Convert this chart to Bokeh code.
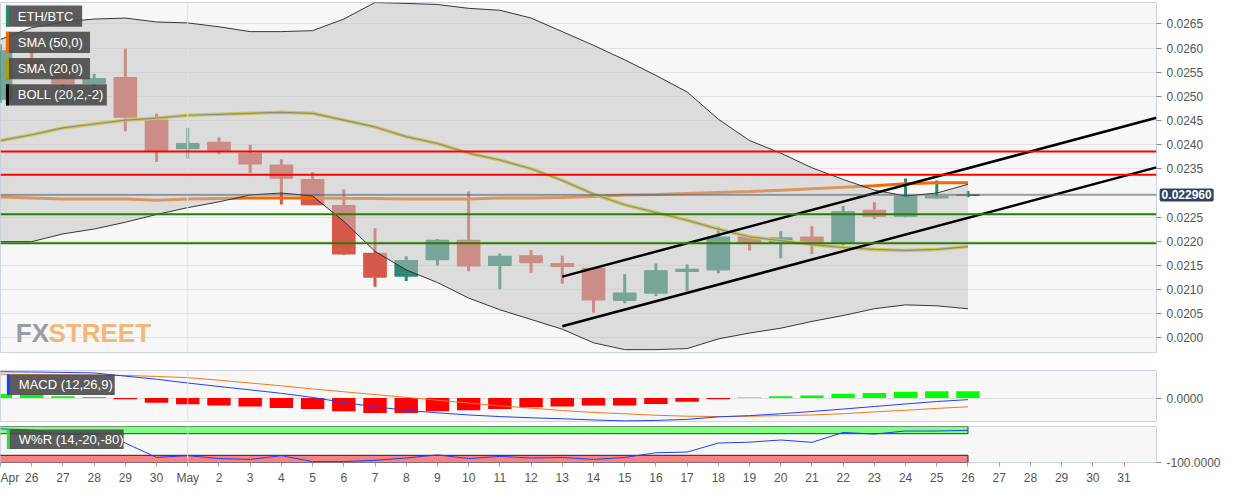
from bokeh.plotting import figure
from bokeh.layouts import column
from bokeh.models import Range1d, FixedTicker, Span, Label, NumeralTickFormatter, ColumnDataSource
from bokeh.embed import file_html
from bokeh.resources import INLINE
from bokeh.core.properties import value

# ---------------- data ----------------
# day index 0 = Apr 25 ... 31 = May 26
days = list(range(32))
opens = [0.02494, 0.02574, 0.02568, 0.02527, 0.02539, 0.02451, 0.02392, 0.02405, 0.02382, 0.02358,
         0.02328, 0.02274, 0.02175, 0.02128, 0.02162, 0.02202, 0.02150, 0.02170, 0.02154, 0.02144,
         0.02078, 0.02093, 0.02138, 0.02141, 0.02209, 0.02198, 0.02209, 0.02198, 0.02264, 0.02252,
         0.02290, 0.02295]
highs = [0.02608, 0.02594, 0.02572, 0.02547, 0.02599, 0.02464, 0.02435, 0.02415, 0.02400, 0.02370,
         0.02343, 0.02307, 0.02227, 0.02169, 0.02205, 0.02303, 0.02175, 0.02182, 0.02170, 0.02145,
         0.02132, 0.02154, 0.02152, 0.02230, 0.02211, 0.02221, 0.02231, 0.02273, 0.02281, 0.02330,
         0.02326, 0.02304]
lows = [0.02487, 0.02564, 0.02490, 0.02511, 0.02428, 0.02364, 0.02372, 0.02380, 0.02342, 0.02276,
        0.02275, 0.02172, 0.02106, 0.02118, 0.02150, 0.02138, 0.02101, 0.02135, 0.02112, 0.02052,
        0.02072, 0.02087, 0.02097, 0.02134, 0.02181, 0.02165, 0.02174, 0.02192, 0.02246, 0.02250,
        0.02288, 0.02291]
closes = [0.02594, 0.02568, 0.02527, 0.02537, 0.02457, 0.02388, 0.02402, 0.02388, 0.02360, 0.02331,
          0.02276, 0.02174, 0.02126, 0.02160, 0.02202, 0.02149, 0.02169, 0.02156, 0.02148, 0.02079,
          0.02093, 0.02139, 0.02142, 0.02209, 0.02198, 0.02207, 0.02198, 0.02261, 0.02252, 0.02293,
          0.02293, 0.02296]

boll_upper = [0.026178, 0.02642, 0.02654, 0.0266, 0.02662, 0.02654, 0.02652, 0.02644, 0.02634, 0.02634,
              0.02636, 0.0266, 0.026943, 0.026923, 0.026902, 0.026822, 0.026782, 0.026621, 0.026339, 0.026057,
              0.025756, 0.025434, 0.025092, 0.024528, 0.024086, 0.023824, 0.023522, 0.02328, 0.023059, 0.022938,
              0.022999, 0.02318]
sma20 = [0.024085, 0.024206, 0.024347, 0.024428, 0.024508, 0.024548, 0.024609, 0.024629, 0.024649, 0.024669,
         0.024649, 0.024508, 0.024367, 0.024166, 0.024025, 0.023824, 0.023683, 0.023502, 0.02326, 0.022979,
         0.022757, 0.022597, 0.022436, 0.022254, 0.022094, 0.022013, 0.021933, 0.021872, 0.021832, 0.021812,
         0.021832, 0.021892]
boll_lower = [0.021993, 0.021993, 0.022154, 0.022254, 0.022395, 0.022556, 0.022697, 0.022818, 0.022959, 0.022999,
              0.022939, 0.022415, 0.021792, 0.021409, 0.021148, 0.020826, 0.020584, 0.020383, 0.020182, 0.0199,
              0.019759, 0.019759, 0.01978, 0.019981, 0.020102, 0.020202, 0.020343, 0.020464, 0.020605, 0.020685,
              0.020665, 0.020605]
sma50 = [0.022918, 0.022898, 0.022878, 0.022878, 0.022878, 0.022848, 0.022878, 0.022888, 0.022898, 0.022898,
         0.022898, 0.022892, 0.022888, 0.022878, 0.022878, 0.022878, 0.022898, 0.022898, 0.022908, 0.022929,
         0.022959, 0.022969, 0.022989, 0.023009, 0.023029, 0.023059, 0.023089, 0.02312, 0.02315, 0.02319,
         0.02321, 0.02321]

resistance_levels = [0.02386, 0.02338]
support_levels = [0.02256, 0.02196]
current_price = 0.02296
channel_x = [18, 37.04]
channel_upper_y = [0.021269, 0.024556]
channel_lower_y = [0.020242, 0.02353]

macd_line = [0.000280, 0.000277, 0.000273, 0.000267, 0.000233, 0.000200, 0.000160, 0.000123, 0.000087, 0.000050,
             0.000007, -0.000047, -0.000093, -0.000130, -0.000157, -0.000180, -0.000197, -0.000210, -0.000220, -0.000233,
             -0.000243, -0.000238, -0.000227, -0.000200, -0.000187, -0.000167, -0.000143, -0.000117, -0.000090, -0.000063,
             -0.000037, -0.000017]
macd_signal = [0.000253, 0.000250, 0.000247, 0.000243, 0.000240, 0.000230, 0.000217, 0.000190, 0.000160, 0.000130,
               0.000097, 0.000067, 0.000037, 0.000007, -0.000023, -0.000053, -0.000083, -0.000107, -0.000133, -0.000153,
               -0.000167, -0.000183, -0.000193, -0.000197, -0.000193, -0.000187, -0.000180, -0.000167, -0.000147, -0.000130,
               -0.000110, -0.000093]
macd_hist = [0.000043, 0.000043, 0.000020, 0.000010, -0.000013, -0.000050, -0.000067, -0.000080, -0.000090, -0.000107,
             -0.000117, -0.000140, -0.000160, -0.000160, -0.000140, -0.000130, -0.000117, -0.000097, -0.000090, -0.000080,
             -0.000080, -0.000063, -0.000040, -0.000013, 0.000007, 0.000020, 0.000027, 0.000047, 0.000053, 0.000067,
             0.000073, 0.000073]
williams_r = [-6.5, -10, -23, -21, -46, -86, -81, -89, -91.5, -81, -97.5, -97.5, -94, -87.5, -79, -89, -83, -87.5,
              -86, -91.5, -86, -73, -71, -46, -43.5, -37.5, -44, -16.5, -21, -12.5, -12.5, -10.75]

x_ticks = list(range(37))
x_tick_labels = ["Apr", "26", "27", "28", "29", "30", "May", "2", "3", "4", "5", "6", "7",
                 "8", "9", "10", "11", "12", "13", "14", "15", "16", "17", "18", "19", "20", "21", "22",
                 "23", "24", "25", "26", "27", "28", "29", "30", "31"]
grid_ticks = [0.0200, 0.0205, 0.0210, 0.0215, 0.0220, 0.0225, 0.0230, 0.0235, 0.0240, 0.0245,
              0.0250, 0.0255, 0.0260, 0.0265]
# 0.0230 is hidden behind the current-price tag in the original
price_ticks = [0.0200, 0.0205, 0.0210, 0.0215, 0.0220, 0.0225, 0.0235, 0.0240, 0.0245,
               0.0250, 0.0255, 0.0260, 0.0265]
month_start = 6

# ---------------- layout helpers ----------------
FONT = "Liberation Sans"
W = 1228
RB = 72
X0, X1 = 0.0, 37.04
UP = "#2e8770"
DOWN = "#d6584a"


def px_x(xr):
    return (xr + 0.5) / 31.55


def px_p(yr):
    return 0.0265 - (yr - 24) * 0.0005 / 24.85


def px_m(yr):
    return (400 - yr) * 1e-5


def px_w(yr):
    return -(yr - 436.7) / 0.4


def base_fig(height, y_range, top, bottom, x_loc=None, x_range=None):
    p = figure(width=W, height=height, x_range=x_range if x_range is not None else Range1d(X0, X1),
               y_range=y_range, output_backend="svg", toolbar_location=None,
               x_axis_location=x_loc, y_axis_location="right",
               min_border_top=top, min_border_bottom=bottom, min_border_left=0, min_border_right=RB,
               background_fill_color="#f7f7f7", border_fill_color="white",
               outline_line_color="#cdd3e2")
    p.xgrid.visible = False
    ax = p.yaxis[0]
    ax.axis_line_color = None
    ax.major_tick_line_color = "#8a8a8a"
    ax.major_tick_out = 5
    ax.major_tick_in = 0
    ax.minor_tick_line_color = None
    ax.major_label_text_font = FONT
    ax.major_label_text_font_size = "12px"
    ax.major_label_text_color = "#555555"
    ax.major_label_standoff = 5
    ax.formatter = NumeralTickFormatter(format="0.0000")
    p.add_layout(Span(location=month_start, dimension="height", line_color="#e2e2e2", line_width=1))
    return p


def legend_box(p, ytr, label, x_left, x_right, y_top, y_bot, bar_color):
    p.quad(left=[px_x(x_left)], right=[px_x(x_right)], top=[ytr(y_top)], bottom=[ytr(y_bot)],
           fill_color="#4a4a4a", fill_alpha=0.9, line_color=None)
    p.quad(left=[px_x(x_left)], right=[px_x(x_left + 3)], top=[ytr(y_top)], bottom=[ytr(y_bot)],
           fill_color=bar_color, line_color=None)
    p.text(x=[px_x(x_left + 12)], y=[ytr((y_top + y_bot) / 2)], text=[label],
           text_font=value(FONT), text_font_size="13px", text_color="white",
           text_baseline="middle", text_align="left")


# ---------------- main price panel ----------------
main = base_fig(370, Range1d(px_p(362), px_p(2)), 2, 18)
main.yaxis[0].ticker = FixedTicker(ticks=price_ticks)
main.ygrid.ticker = FixedTicker(ticks=grid_ticks)
main.ygrid.grid_line_color = "#e3e3e3"

cs = ColumnDataSource(dict(
    x=days, high=highs, low=lows,
    top=[max(o, c) for o, c in zip(opens, closes)],
    bottom=[min(o, c) for o, c in zip(opens, closes)],
    color=[UP if c >= o else DOWN for o, c in zip(opens, closes)],
))
main.segment(x0="x", y0="low", x1="x", y1="high", line_color="color", line_width=3, source=cs)
main.vbar(x="x", width=0.72, top="top", bottom="bottom", fill_color="color", line_color="color",
          line_width=1.2, source=cs)

main.line(days, sma50, line_color="#f26a00", line_width=3)
main.line(days, sma20, line_color="#d8c700", line_width=3.5)
main.line(days, sma20, line_color="#5c5a3a", line_width=1.2)

main.varea(x=days, y1=boll_lower, y2=boll_upper, fill_color="#c1c1c1", fill_alpha=0.5)
main.line(days, boll_upper, line_color="#222222", line_width=0.9)
main.line(days, boll_lower, line_color="#222222", line_width=0.9)

for lv in resistance_levels:
    main.add_layout(Span(location=lv, dimension="width", line_color="#ff0000", line_width=2))
for lv in support_levels:
    main.add_layout(Span(location=lv, dimension="width", line_color="#2a7d00", line_width=2))
main.add_layout(Span(location=current_price, dimension="width", line_color="#4a5875", line_width=1))

main.line(channel_x, channel_upper_y, line_color="black", line_width=2.5)
main.line(channel_x, channel_lower_y, line_color="black", line_width=2.5)

main.text(x=[px_x(15)], y=[px_p(342)], text=["FX"], text_font=value("Liberation Sans"),
          text_font_style="bold", text_font_size="26px", text_color="#9a9ca3",
          text_baseline="alphabetic", text_align="left")
main.text(x=[px_x(48)], y=[px_p(342)], text=["STREET"], text_font=value("Liberation Sans"),
          text_font_style="bold", text_font_size="26px", text_color="#f3b77a",
          text_baseline="alphabetic", text_align="left")

legend_box(main, px_p, "ETH/BTC", 5, 82, 5, 27, UP)
legend_box(main, px_p, "SMA (50,0)", 5, 90, 32, 54, "#f26a00")
legend_box(main, px_p, "SMA (20,0)", 5, 90, 59, 81, "#b3a000")
legend_box(main, px_p, "BOLL (20,2,-2)", 5, 107, 86, 108, "#000000")

# current price tag: held in the (otherwise empty) bottom side panel so it is not clipped to the frame
main.add_layout(Label(x=X1 + 0.1, y=current_price, x_units="data", y_units="data",
                      text=f"{current_price:.6f}", text_font=FONT, text_font_size="12px",
                      text_font_style="bold", text_color="white", text_baseline="middle",
                      text_align="left", background_fill_color="#2f4461", padding=2,
                      border_radius=2), "below")

# ---------------- MACD panel ----------------
pm = base_fig(52, Range1d(px_m(426), px_m(370.7)), 0, 0, x_range=main.x_range)
pm.yaxis[0].ticker = FixedTicker(ticks=[0])
pm.ygrid.ticker = FixedTicker(ticks=[0])
pm.ygrid.grid_line_color = "#dcdcdc"
hs = ColumnDataSource(dict(x=days, top=macd_hist,
                           color=["#00ff00" if h >= 0 else "#ff0000" for h in macd_hist]))
pm.vbar(x="x", width=0.75, top="top", bottom=0, fill_color="color", line_color=None, source=hs)
pm.line(days, macd_signal, line_color="#f07820", line_width=1)
pm.line(days, macd_line, line_color="#1f3fff", line_width=1)
legend_box(pm, px_m, "MACD (12,26,9)", 6, 115, 375, 396.7, "#1f3fff")

# ---------------- Williams %R panel ----------------
pw = base_fig(65, Range1d(-100, 0), 4, 22, x_loc="below", x_range=main.x_range)
pw.yaxis[0].ticker = FixedTicker(ticks=[-100])
pw.ygrid.visible = False
pw.quad(left=[-1], right=[days[-1]], top=[0], bottom=[-20], fill_color="#80ff80",
        line_color="#1f4f1f", line_width=1)
pw.quad(left=[-1], right=[days[-1]], top=[-80], bottom=[-100], fill_color="#ff8080",
        line_color="#222222", line_width=1)
pw.line(days, williams_r, line_color="#1f3fff", line_width=1)
legend_box(pw, px_w, "W%R (14,-20,-80)", 6, 124, 440, 461.7, "#33dd33")

xa = pw.xaxis[0]
xa.ticker = FixedTicker(ticks=x_ticks)
xa.major_label_overrides = {t: l for t, l in zip(x_ticks, x_tick_labels)}
xa.axis_line_color = None
xa.major_tick_line_color = "#999999"
xa.major_tick_out = 4
xa.major_tick_in = 0
xa.minor_tick_line_color = None
xa.major_label_text_font = FONT
xa.major_label_text_font_size = "12px"
xa.major_label_text_color = "#555555"
xa.major_label_standoff = 4

layout = column(main, pm, pw, spacing=0)
open("out.html", "w").write(file_html(layout, INLINE))
